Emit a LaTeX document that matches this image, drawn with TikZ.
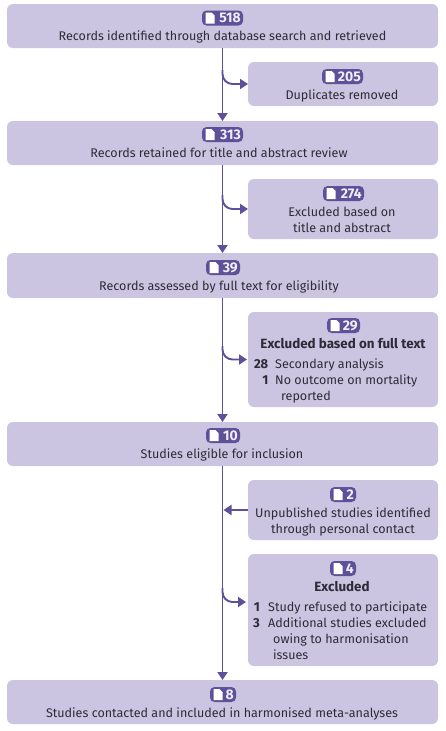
\documentclass[tikz,border=0pt]{standalone}
\usepackage{fontspec}
\setmainfont{Fira Sans}
\usetikzlibrary{arrows.meta,calc}
\definecolor{boxfill}{HTML}{CBC5E1}
\definecolor{linecol}{HTML}{5F5199}
\definecolor{inkcol}{HTML}{2E2B38}
\tikzset{
  wide/.style={fill=boxfill,rounded corners=6pt,minimum width=431pt,inner sep=0pt,outer sep=0pt},
  side/.style={fill=boxfill,rounded corners=6pt,minimum width=190pt,inner sep=0pt,outer sep=0pt},
  txt/.style={anchor=base,inner sep=0pt,text=inkcol,font=\fontsize{12.55}{14}\selectfont},
  txtl/.style={txt,anchor=base west},
  txtr/.style={txt,anchor=base east,font=\fontsize{13}{14}\selectfont\bfseries},
  head/.style={txt,font=\fontsize{13.4}{14}\selectfont\bfseries},
  badgebox/.style={fill=linecol,rounded corners=4.5pt,minimum height=15pt,inner sep=0pt,outer sep=0pt},
  badgenum/.style={anchor=base east,inner sep=0pt,text=boxfill!30!white,font=\fontsize{14}{14}\selectfont\bfseries},
  flow/.style={draw=linecol,line width=1.9pt,-{Triangle[length=8pt,width=10pt]}},
  branch/.style={flow,rounded corners=10pt},
}
% name, left x, right x, top y, number
\newcommand{\badge}[5]{%
  \node[badgebox,minimum width=#3pt-#2pt,anchor=north west] (#1) at (#2,#4) {};
  \fill[white] (#2+3.5,#4+2) -- (#2+9.5,#4+2) -- (#2+12.7,#4+5.2) -- (#2+12.7,#4+13) -- (#2+3.5,#4+13) -- cycle;
  \node[badgenum] (#1n) at (#3-2,#4+12.3) {#5};
}
\begin{document}
\begin{tikzpicture}[x=1pt,y=-1pt]
\useasboundingbox (0,0) rectangle (445,731);
\fill[white] (0,0) rectangle (445,731);
% boxes
\node[wide,minimum height=44pt] (m1) at (222.5,26) {};
\node[wide,minimum height=44pt] (m2) at (222.5,143) {};
\node[wide,minimum height=45pt] (m3) at (222.5,275.5) {};
\node[wide,minimum height=44pt] (m4) at (222.5,444) {};
\node[wide,minimum height=44pt] (m5) at (222.5,702) {};
\node[side,minimum height=44pt] (s1) at (343,84) {};
\node[side,minimum height=60pt] (s2) at (343,209) {};
\node[side,minimum height=95pt] (s3) at (343,359.5) {};
\node[side,minimum height=60pt] (s4) at (343,510) {};
\node[side,minimum height=112pt] (s5) at (343,610) {};
% junction points on the trunk and connectors
\coordinate (j1) at (222.5,70);
\coordinate (j2) at (222.5,195);
\coordinate (j3) at (222.5,346);
\coordinate (j4) at (222.5,510);
\coordinate (j5) at (222.5,588);
\draw[flow] (m1) ++(0,22) -- (m2.north);
\draw[flow] (m2) ++(0,22) -- (m3.north);
\draw[flow] (m3) ++(0,22.5) -- (m4.north);
\draw[flow] (m4) ++(0,22) -- (m5.north);
\draw[branch] (j1) -- (222.5,84) -- (s1.west);
\draw[branch] (j2) -- (222.5,209) -- (s2.west);
\draw[branch] (j3) -- (222.5,359.5) -- (247,359.5);
\draw[flow,shorten >=1pt] (s4.west) -- (j4);
\draw[branch] (j5) -- (222.5,602) -- (246,602);
% badges
\badge{b1}{202}{243}{10.5}{518}
\badge{b2}{322}{363}{69}{205}
\badge{b3}{202}{243}{127}{313}
\badge{b4}{323}{364}{186}{274}
\badge{b5}{206}{240}{260}{39}
\badge{b6}{327}{360}{318}{29}
\badge{b7}{206}{240}{428}{10}
\badge{b8}{330}{356}{487}{2}
\badge{b9}{330}{356}{561}{4}
\badge{b10}{210}{236}{687}{8}
% texts
\node[txt] (t1) at (222.5,40) {Records identified through database search and retrieved};
\node[txt] (t2) at (342,99) {Duplicates removed};
\node[txt] (t3) at (219,157) {Records retained for title and abstract review};
\node[txt] (t4a) at (342,216) {Excluded based on};
\node[txt] (t4b) at (342,232) {title and abstract};
\node[txt] (t5) at (219,290) {Records assessed by full text for eligibility};
\node[head] (t6) at (343,348) {Excluded based on full text};
\node[txtr] (n6a) at (268.5,368) {28};
\node[txtl] (t6a) at (275,368) {Secondary analysis};
\node[txtr] (n6b) at (268.5,384) {1};
\node[txtl] (t6b) at (275,384) {No outcome on mortality};
\node[txtl] (t6c) at (281,400) {reported};
\node[txt] (t7) at (222,458) {Studies eligible for inclusion};
\node[txt] (t8a) at (343,517) {Unpublished studies identified};
\node[txt] (t8b) at (343,533) {through personal contact};
\node[head] (t9) at (342,591) {Excluded};
\node[txtr] (n9a) at (260,611) {1};
\node[txtl] (t9a) at (268,611) {Study refused to participate};
\node[txtr] (n9b) at (260,627) {3};
\node[txtl] (t9b) at (268,627) {Additional studies excluded};
\node[txtl] (t9c) at (273,643) {owing to harmonisation};
\node[txtl] (t9d) at (273,659) {issues};
\node[txt] (t10) at (222,717) {Studies contacted and included in harmonised meta-analyses};
\end{tikzpicture}
\end{document}
